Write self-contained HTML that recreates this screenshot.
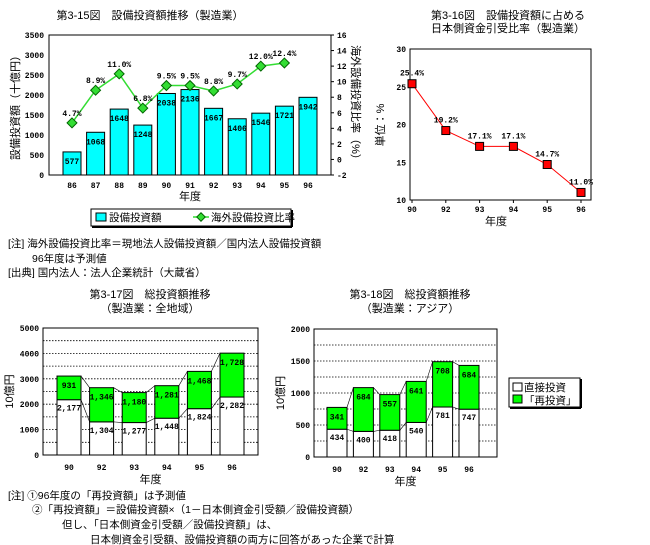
<!DOCTYPE html>
<html><head><meta charset="utf-8"><style>
body{margin:0;background:#fff;}
svg{display:block;font-family:"Liberation Sans","Noto Sans CJK JP",sans-serif;}
.t{font-size:11px;fill:#000}
.n{font-size:10.5px;fill:#000}
.lg{font-size:10.5px;fill:#000}
.s{font-size:8px;fill:#000;font-family:"Liberation Mono",monospace;font-weight:bold}
</style></head><body>
<svg id="c" width="650" height="545" viewBox="0 0 650 545" xmlns="http://www.w3.org/2000/svg">
<text class="t" x="150" y="19" text-anchor="middle">第3-15図　設備投資額推移（製造業）</text>
<text class="t" x="508" y="19" text-anchor="middle">第3-16図　設備投資額に占める</text>
<text class="t" x="508" y="32" text-anchor="middle">日本側資金引受比率（製造業）</text>
<text class="t" x="150" y="298" text-anchor="middle">第3-17図　総投資額推移</text>
<text class="t" x="150" y="312" text-anchor="middle">（製造業：全地域）</text>
<text class="t" x="410" y="298" text-anchor="middle">第3-18図　総投資額推移</text>
<text class="t" x="410" y="312" text-anchor="middle">（製造業：アジア）</text>
<g class="n">
<text x="8" y="247">[注] 海外設備投資比率＝現地法人設備投資額／国内法人設備投資額</text>
<text x="32" y="262">96年度は予測値</text>
<text x="8" y="276">[出典] 国内法人：法人企業統計（大蔵省）</text>
</g>
<g class="n">
<text x="8" y="499">[注] ①96年度の「再投資額」は予測値</text>
<text x="32" y="513">②「再投資額」＝設備投資額×（1－日本側資金引受額／設備投資額）</text>
<text x="62" y="528">但し、「日本側資金引受額／設備投資額」は、</text>
<text x="90" y="543">日本側資金引受額、設備投資額の両方に回答があった企業で計算</text>
</g>
</svg>
<script>
const years1=["86","87","88","89","90","91","92","93","94","95","96"];
const invest1=[577,1068,1648,1248,2038,2136,1667,1406,1546,1721,1942];
const ratio1=[4.7,8.9,11.0,6.6,9.5,9.5,8.8,9.7,12.0,12.4];
const ratioLabels1=["4.7%","8.9%","11.0%","6.8%","9.5%","9.5%","8.8%","9.7%","12.0%","12.4%"];
const leftTicks1=[0,500,1000,1500,2000,2500,3000,3500];
const rightTicks1=[-2,0,2,4,6,8,10,12,14,16];
const years2=["90","92","93","94","95","96"];
const share2=[25.4,19.2,17.1,17.1,14.7,11.0];
const ticks2=[10,15,20,25,30];
const years3=["90","92","93","94","95","96"];
const direct3=[2177,1304,1277,1448,1824,2282];
const reinv3=[931,1346,1180,1281,1468,1728];
const ticks3=[0,1000,2000,3000,4000,5000];
const direct4=[434,400,418,540,781,747];
const reinv4=[341,684,557,641,708,684];
const ticks4=[0,500,1000,1500,2000];

const svg=document.getElementById('c');const NS='http://www.w3.org/2000/svg';
function mk(tag,at,txt){const e=document.createElementNS(NS,tag);for(const k in at)e.setAttribute(k,at[k]);if(txt!==undefined)e.textContent=txt;svg.appendChild(e);return e;}
function fmt(v){return v>=1000?Math.floor(v/1000)+","+String(v%1000).padStart(3,"0"):String(v);}

// Chart 1
{const L=49,R=331,T=35,B=175;const y=v=>B-(v/3500)*(B-T);const y2=v=>B-((v+2)/18)*(B-T);
const x=i=>72+i*(308-72)/10;
let e=mk('rect',{x:L,y:T,width:R-L,height:B-T,fill:'#fff',stroke:'#000'});

leftTicks1.forEach(t=>{let e=mk('text',{class:'s',x:L-5,y:y(t)+3,'text-anchor':'end'},t);});
rightTicks1.forEach(t=>{let e=mk('text',{class:'s',x:R+6,y:y2(t)+3},t);mk('line',{x1:R,x2:R+3,y1:y2(t),y2:y2(t),stroke:'#000'});});
invest1.forEach((v,i)=>{let e=mk('rect',{x:x(i)-9,y:y(v),width:18,height:B-y(v),fill:'#00ffff',stroke:'#000'});
let t=mk('text',{class:'s',x:x(i),y:y(v)+12,'text-anchor':'middle'},v);
let a=mk('text',{class:'s',x:x(i),y:188,'text-anchor':'middle'},years1[i]);});
let pl=mk('polyline',{points:ratio1.map((v,i)=>x(i)+','+y2(v)).join(' '),fill:'none',stroke:'#33dd33','stroke-width':1.5});

ratio1.forEach((v,i)=>{let p=mk('rect',{x:x(i)-3.5,y:y2(v)-3.5,width:7,height:7,fill:'#33dd33',stroke:'#006600',transform:`rotate(45 ${x(i)} ${y2(v)})`});
let t=mk('text',{class:'s',x:x(i),y:y2(v)-7,'text-anchor':'middle'},ratioLabels1[i]);});
let a=mk('text',{class:'t',x:190,y:200,'text-anchor':'middle'},'年度');
let b=mk('text',{class:'t',x:0,y:0,'text-anchor':'middle',transform:'translate(19,105) rotate(-90)'},'設備投資額（十億円）');
let c=mk('text',{class:'t',x:0,y:0,'text-anchor':'middle',transform:'translate(352,105) rotate(90)'},'海外設備投資比率（%）');
let lg=mk('rect',{x:91,y:209,width:200,height:17,fill:'#fff',stroke:'#000'});
mk('line',{x1:92,x2:292,y1:227,y2:227,stroke:'#000','stroke-width':2});mk('line',{x1:292,x2:292,y1:210,y2:227,stroke:'#000','stroke-width':2});
let l1=mk('rect',{x:96,y:213,width:10,height:8,fill:'#00ffff',stroke:'#000'});
mk('text',{class:'lg',x:109,y:221},'設備投資額');
mk('line',{x1:193,x2:209,y1:217,y2:217,stroke:'#33dd33','stroke-width':1.5});
mk('rect',{x:198,y:214,width:6,height:6,fill:'#33dd33',stroke:'#006600',transform:'rotate(45 201 217)'});
mk('text',{class:'lg',x:211,y:221},'海外設備投資比率');}

// Chart 2
{const L=410,R=591,T=49,B=200;const y=v=>B-((v-10)/20)*(B-T);const x=i=>412+i*(581-412)/5;
let e=mk('rect',{x:L,y:T,width:R-L,height:B-T,fill:'#fff',stroke:'#000'});
ticks2.forEach(t=>{let e=mk('text',{class:'s',x:L-4,y:y(t)+3,'text-anchor':'end'},t);});
years2.forEach((yr,i)=>{mk('line',{x1:x(i),x2:x(i),y1:B,y2:B+3,stroke:'#000'});let a=mk('text',{class:'s',x:x(i),y:212,'text-anchor':'middle'},yr);});
let pl=mk('polyline',{points:share2.map((v,i)=>x(i)+','+y(v)).join(' '),fill:'none',stroke:'#ff0000'});
share2.forEach((v,i)=>{let p=mk('rect',{x:x(i)-4,y:y(v)-4,width:8,height:8,fill:'#ff0000',stroke:'#000'});
let t=mk('text',{class:'s',x:x(i),y:y(v)-8,'text-anchor':'middle'},v.toFixed(1)+'%');});
let a=mk('text',{class:'t',x:496,y:225,'text-anchor':'middle'},'年度');
let b=mk('text',{class:'t',x:0,y:0,'text-anchor':'middle',transform:'translate(384,125) rotate(-90)'},'単位：%');}

// stacked charts
function stacked(L,R,T,B,max,ticks,dir,re,c0,cN,w,tag,xt,ng){
const y=v=>B-(v/max)*(B-T);const x=i=>c0+i*(cN-c0)/5;
let e=mk('rect',{x:L,y:T,width:R-L,height:B-T,fill:'#fff',stroke:'#000'});
for(let k=1;k<ng;k++){const g=max*k/ng;mk('line',{x1:L,x2:R,y1:y(g),y2:y(g),stroke:'#000','stroke-dasharray':'1.5,1.5','stroke-width':0.8});}
ticks.forEach(t=>{let e=mk('text',{class:'s',x:L-4,y:y(t)+3,'text-anchor':'end'},t);});
for(let i=0;i<5;i++){mk('line',{x1:x(i)+w/2,x2:x(i+1)-w/2,y1:y(dir[i]),y2:y(dir[i+1]),stroke:'#000','stroke-width':0.6});mk('line',{x1:x(i)+w/2,x2:x(i+1)-w/2,y1:y(dir[i]+re[i]),y2:y(dir[i+1]+re[i+1]),stroke:'#000','stroke-width':0.6});}
dir.forEach((d,i)=>{let a=mk('rect',{x:x(i)-w/2,y:y(d),width:w,height:B-y(d),fill:'#fff',stroke:'#000'});
let b=mk('rect',{x:x(i)-w/2,y:y(d+re[i]),width:w,height:y(d)-y(d+re[i]),fill:'#00ff00',stroke:'#000'});
let t1=mk('text',{class:'s',x:x(i),y:y(d)+11,'text-anchor':'middle'},fmt(d));
let t2=mk('text',{class:'s',x:x(i),y:y(d+re[i])+12,'text-anchor':'middle'},fmt(re[i]));
let xl=mk('text',{class:'s',x:x(i),y:B+15,'text-anchor':'middle'},xt[i]);});
let a=mk('text',{class:'t',x:(L+R)/2,y:B+28,'text-anchor':'middle'},'年度');
let b=mk('text',{class:'t',x:0,y:0,'text-anchor':'middle',transform:`translate(${L-30},${(T+B)/2}) rotate(-90)`},'10億円');}
stacked(43,258,328,455,5000,ticks3,direct3,reinv3,69,232,24,'chart3',years3,10);
stacked(314,497,329,457,2000,ticks4,direct4,reinv4,337,469,20,'chart4',years3,8);
{let lg=mk('rect',{x:509,y:378,width:71,height:29,fill:'#fff',stroke:'#000'});
mk('line',{x1:510,x2:581,y1:408,y2:408,stroke:'#000','stroke-width':2});mk('line',{x1:581,x2:581,y1:379,y2:408,stroke:'#000','stroke-width':2});
mk('rect',{x:513,y:383,width:9,height:8,fill:'#fff',stroke:'#000'});mk('text',{class:'lg',x:524,y:391},'直接投資');
mk('rect',{x:513,y:395,width:9,height:8,fill:'#00ff00',stroke:'#000'});mk('text',{class:'lg',x:524,y:404},'「再投資」');}
</script>
</body></html>
